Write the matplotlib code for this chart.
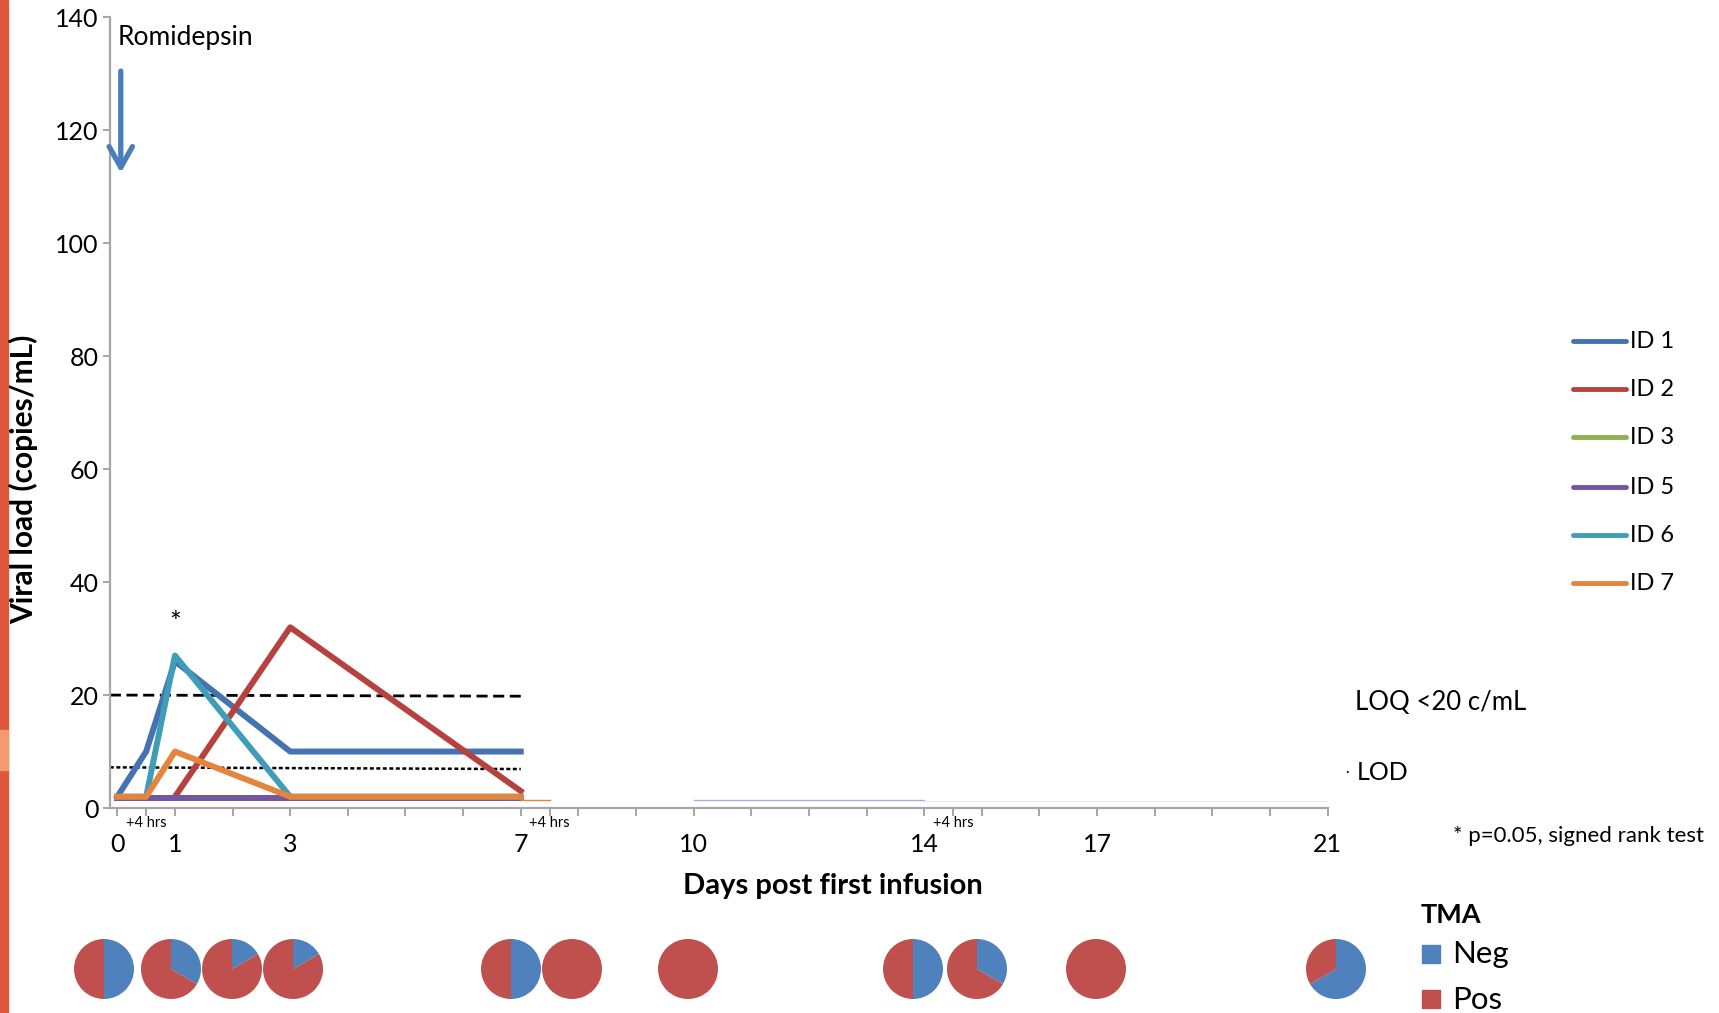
import matplotlib.pyplot as plt
import numpy as np
from matplotlib.lines import Line2D
from matplotlib.patches import Rectangle

plt.rcParams['font.family'] = ['Lato', 'DejaVu Sans']

W, H = 1719, 1013

# viral load (copies/mL), x = days post first infusion (0.5 = +4 hrs)
days = [0, 0.5, 1, 3, 7]
id1 = [2, 10, 26, 10, 10]
id2 = [np.nan, np.nan, 2, 32, 3]
id3 = [1.8, 1.8, 1.8, 1.8, 1.8]
id5 = [1.8, 1.8, 1.8, 1.8, 1.8]
id6 = [2, 2, 27, 2, 2]
id7 = [2, 2, 10, 2, 2]
series_names = ['ID 1', 'ID 2', 'ID 3', 'ID 5', 'ID 6', 'ID 7']
series_colors = ['#4572b0', '#b5423e', '#8db04c', '#7356a0', '#3f9db9', '#e5843c']

# faint tails after day 7
tail7_days = [7, 7.5]
tail7 = [1.5, 1.5]
tail5_days = [10, 14]
tail5 = [1.4, 1.4]
tail_late_days = [14, 21]
tail_late = [1.3, 1.3]

# limits of quantification / detection
limit_days = [-0.13, 7]
loq = [20, 19.8]
lod = [7.2, 6.9]

# x ticks
tick_days = sorted(list(range(22)) + [0.5, 7.5, 14.5])
label_days = [0, 1, 3, 7, 10, 14, 17, 21]
hrs_days = [0.5, 7.5, 14.5]

# TMA results per timepoint
tma_points = ['0', '+4 hrs', '1', '3', '7', '+4 hrs', '10', '14', '+4 hrs', '17', '21']
tma_neg = [3, 2, 1, 1, 3, 0, 0, 3, 2, 0, 4]
tma_pos = [3, 4, 5, 5, 3, 6, 6, 3, 4, 6, 2]


def fx(x):
    return x / W


def fy(y):
    return 1 - y / H


fig = plt.figure(figsize=(W / 100, H / 100), dpi=100)
fig.patch.set_facecolor('white')

# red slide stripe on the left
fig.add_artist(Rectangle((0, 0), fx(7.5), 1, transform=fig.transFigure,
                         color='#e0583b', zorder=0))
fig.add_artist(Rectangle((0, fy(770)), fx(7.5), 40 / H, transform=fig.transFigure,
                         color='#f39a72', zorder=0))

ax = fig.add_axes([fx(109.6), fy(808), fx(1327.6 - 109.6), (808 - 17.5) / H])
ax.set_xlim(-0.134, 21)
ax.set_ylim(0, 140)

ax.plot(limit_days, loq, color='black', lw=2, dashes=(4, 2), zorder=1)
ax.plot(limit_days, lod, color='black', lw=1.8, dashes=(1.6, 1.0), zorder=1)

all_series = [id1, id2, id3, id5, id6, id7]
for vals, name, col in zip(all_series, series_names, series_colors):
    ax.plot(days, vals, color=col, lw=4.3, solid_joinstyle='round', label=name, zorder=2)

ax.plot(tail7_days, tail7, color='#e5843c', lw=1, zorder=2)
ax.plot(tail5_days, tail5, color='#b7a6d6', lw=1, zorder=2)
ax.plot(tail_late_days, tail_late, color='#e6ecf4', lw=1, zorder=2)

ax.text(1, 32.5, '*', ha='center', va='center', fontsize=20)

# axes styling
for s in ['top', 'right']:
    ax.spines[s].set_visible(False)
for s in ['left', 'bottom']:
    ax.spines[s].set_color('#a6a6a6')
    ax.spines[s].set_linewidth(1.6)

ax.set_yticks(range(0, 141, 20))
ax.tick_params(axis='y', length=5, width=1.4, color='#a6a6a6', labelsize=18, pad=3)
ax.set_xticks(tick_days)
ax.set_xticklabels([str(d) if d in label_days else '' for d in tick_days])
ax.tick_params(axis='x', length=6, width=1.4, color='#a6a6a6', labelsize=18, pad=12)

for d in hrs_days:
    ax.annotate('+4 hrs', xy=(d, 0), xycoords=('data', 'axes fraction'),
                xytext=(0, -11), textcoords='offset points',
                ha='center', va='center', fontsize=10.5)

# Romidepsin arrow
ax.annotate('', xy=(0.06, 112), xytext=(0.06, 131),
            arrowprops=dict(arrowstyle='->,head_length=0.75,head_width=0.42',
                            color='#4a7ebb', lw=3.8, mutation_scale=20))
fig.text(fx(118), fy(38), 'Romidepsin', fontsize=19, va='center', ha='left')

# axis titles
fig.text(fx(833), fy(886), 'Days post first infusion', fontsize=21,
         fontweight='bold', ha='center', va='center')
fig.text(fx(24), fy(479), 'Viral load (copies/mL)', fontsize=21.5,
         fontweight='bold', ha='center', va='center', rotation=90)

# line legend
leg_y = [341, 389, 437, 487, 535, 583]
for name, col, y in zip(series_names, series_colors, leg_y):
    fig.add_artist(Line2D([fx(1573), fx(1626)], [fy(y), fy(y)], color=col, lw=3.5,
                          solid_capstyle='round', transform=fig.transFigure))
    fig.text(fx(1630), fy(y), name, fontsize=17, va='center', ha='left')

# limit labels and footnote
fig.text(fx(1355), fy(703), 'LOQ <20 c/mL', fontsize=18.5, va='center')
fig.text(fx(1345), fy(772), '\u00b7', fontsize=10, va='center')
fig.text(fx(1357), fy(772), 'LOD', fontsize=18, va='center')
fig.text(fx(1453), fy(836), '* p=0.05, signed rank test', fontsize=16, va='center')

# TMA pies
pie_x = [104, 171, 232, 293, 511, 572, 688, 913, 977, 1096, 1336]
pie_y = 969
r = 30
for cx, neg, pos in zip(pie_x, tma_neg, tma_pos):
    pax = fig.add_axes([fx(cx - r), fy(pie_y + r), 2 * r / W, 2 * r / H])
    pax.pie([neg, pos], colors=['#4f81bd', '#c0504d'], startangle=90,
            counterclock=False, wedgeprops=dict(linewidth=0))
    pax.set_xlim(-1, 1)
    pax.set_ylim(-1, 1)
    pax.set_aspect('equal')

fig.text(fx(1421), fy(915), 'TMA', fontsize=19.5, fontweight='bold', va='center')
fig.add_artist(Rectangle((fx(1422), fy(963)), 18 / W, 18 / H,
                         transform=fig.transFigure, color='#4f81bd'))
fig.text(fx(1452), fy(954), 'Neg', fontsize=22.5, va='center')
fig.add_artist(Rectangle((fx(1422), fy(1008)), 18 / W, 18 / H,
                         transform=fig.transFigure, color='#c0504d'))
fig.text(fx(1452), fy(1000), 'Pos', fontsize=22.5, va='center')

fig.savefig('out.png', dpi=100)
